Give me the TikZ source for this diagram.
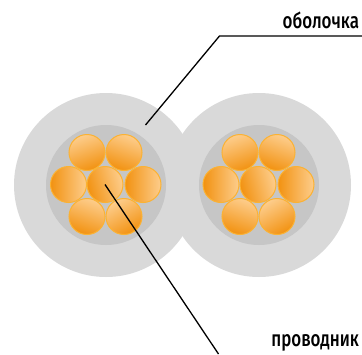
\documentclass[tikz,border=0pt]{standalone}
\usepackage{fontspec}
\setmainfont[FakeStretch=0.77]{Fira Sans Medium}
\definecolor{sheath}{HTML}{D9D9D9}
\definecolor{core}{HTML}{C6C6C6}
\definecolor{rim}{HTML}{FBB233}
\definecolor{lightor}{HTML}{FDCD8C}
\definecolor{darkor}{HTML}{F29211}
\tikzset{
  sheathdisc/.style={circle,fill=sheath,minimum size=184pt,inner sep=0,outer sep=0},
  coredisc/.style={circle,fill=core,minimum size=120pt,inner sep=0,outer sep=0},
  strand/.style={circle,draw=rim,line width=1pt,inner sep=0,outer sep=0,minimum size=36pt,
    top color=lightor,bottom color=darkor,shading angle=#1},
  leader/.style={draw=black,line width=1.3pt},
  lab/.style={inner sep=0,outer sep=0,anchor=base east,font=\fontsize{22pt}{24pt}\selectfont}
}
\begin{document}
\begin{tikzpicture}[x=1pt,y=-1pt]
\useasboundingbox (0,0) rectangle (362,354);
\node[sheathdisc] (sL) at (106,185) {};
\node[sheathdisc] (sR) at (259,185) {};
\node[coredisc] (cL) at (106,185) {};
\node[coredisc] (cR) at (259,185) {};
% left group
\node[strand=20] (a1) at (87,152.5) {};
\node[strand=340] (a2) at (124,152.5) {};
\node[strand=270] (a3) at (68.5,184.5) {};
\node[strand=285] (a4) at (105,184.5) {};
\node[strand=270] (a5) at (143,184.5) {};
\node[strand=340] (a6) at (87,216.5) {};
\node[strand=30] (a7) at (124,216.5) {};
% right group
\node[strand=20] (b1) at (240,152.5) {};
\node[strand=340] (b2) at (277,152.5) {};
\node[strand=270] (b3) at (221,184.5) {};
\node[strand=285] (b4) at (258,184.5) {};
\node[strand=270] (b5) at (296,184.5) {};
\node[strand=340] (b6) at (240,216.5) {};
\node[strand=30] (b7) at (277,216.5) {};
% labels
\node[lab] (t1) at (359,28) {оболочка};
\node[lab] (t2) at (359,346.5) {проводник};
% leaders
\coordinate (p1) at (145.5,125);
\coordinate (k1) at (219.5,36);
\coordinate (e1) at (362,36);
\coordinate (e2) at (218.5,354);
\draw[leader] (p1) -- (k1) -- (e1);
\draw[leader] (a4.center) -- (e2);
\end{tikzpicture}
\end{document}
